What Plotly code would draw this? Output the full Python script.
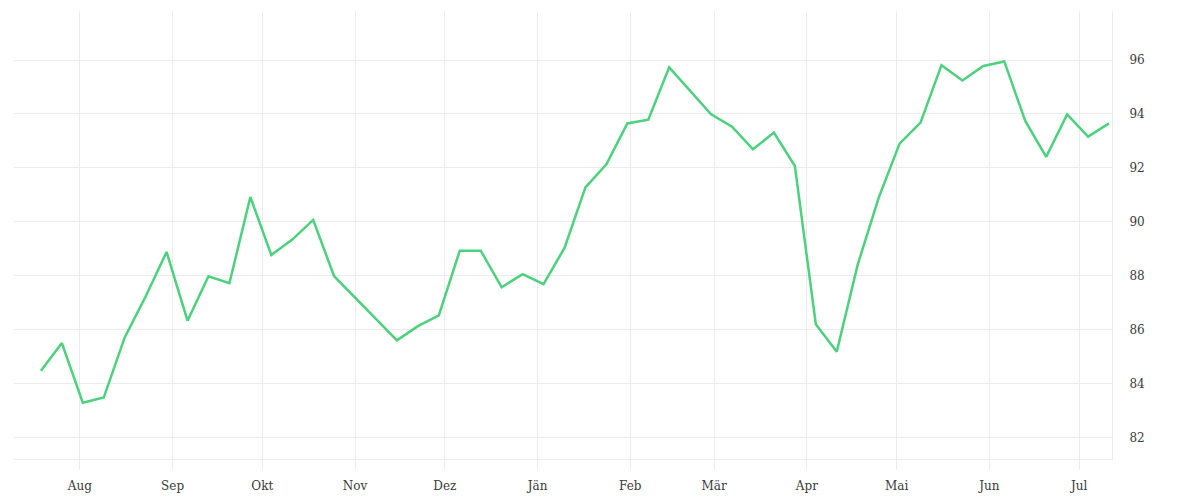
import pandas as pd
import plotly.graph_objects as go

# weekly series
start_date = '2021-07-19'
values = [
    84.47, 85.50, 83.29, 83.48, 85.71, 87.23, 88.88, 86.33, 87.98, 87.72,
    90.92, 88.77, 89.34, 90.07, 87.98, 87.18, 86.38, 85.60, 86.13, 86.53,
    88.93, 88.93, 87.57, 88.06, 87.69, 89.03, 91.28, 92.13, 93.65, 93.79,
    95.73, 94.87, 93.99, 93.53, 92.69, 93.31, 92.07, 86.20, 85.18, 88.41,
    90.89, 92.90, 93.68, 95.81, 95.24, 95.78, 95.95, 93.74, 92.41, 93.98,
    93.16, 93.65,
]
dates = pd.date_range(start_date, periods=len(values), freq='7D')

# month ticks (Austrian German labels)
tick_dates = pd.date_range('2021-08-01', '2022-07-01', freq='MS')
tick_labels = ['Aug', 'Sep', 'Okt', 'Nov', 'Dez', 'Jän', 'Feb', 'Mär',
               'Apr', 'Mai', 'Jun', 'Jul']
y_ticks = [82, 84, 86, 88, 90, 92, 94, 96]

grid_color = '#ececec'
label_font = dict(family='DejaVu Serif', size=12, color='#3a3a3a')

fig = go.Figure()
fig.add_trace(
    go.Scatter(
        x=dates,
        y=values,
        mode='lines',
        line=dict(color='#4cd17c', width=2.5),
        showlegend=False,
    )
)

# page body adds ~8px offset, so margins are shifted accordingly
fig.update_layout(
    width=1200,
    height=500,
    plot_bgcolor='white',
    paper_bgcolor='white',
    margin=dict(l=6, r=96, t=3, b=49, pad=0),
    font=label_font,
    xaxis=dict(
        range=['2021-07-10', '2022-07-12'],
        tickvals=tick_dates,
        ticktext=tick_labels,
        showgrid=True,
        gridcolor=grid_color,
        gridwidth=1,
        ticks='outside',
        ticklen=10,
        tickcolor=grid_color,
        tickwidth=1,
        ticklabelstandoff=6,
        showline=True,
        linecolor=grid_color,
        linewidth=1,
        zeroline=False,
        tickfont=label_font,
    ),
    yaxis=dict(
        range=[81.2, 97.82],
        side='right',
        tickvals=y_ticks,
        showgrid=True,
        gridcolor=grid_color,
        gridwidth=1,
        showline=True,
        linecolor=grid_color,
        linewidth=1,
        ticks='',
        ticklabelstandoff=14,
        zeroline=False,
        tickfont=label_font,
    ),
)

fig.write_html('out.html')
